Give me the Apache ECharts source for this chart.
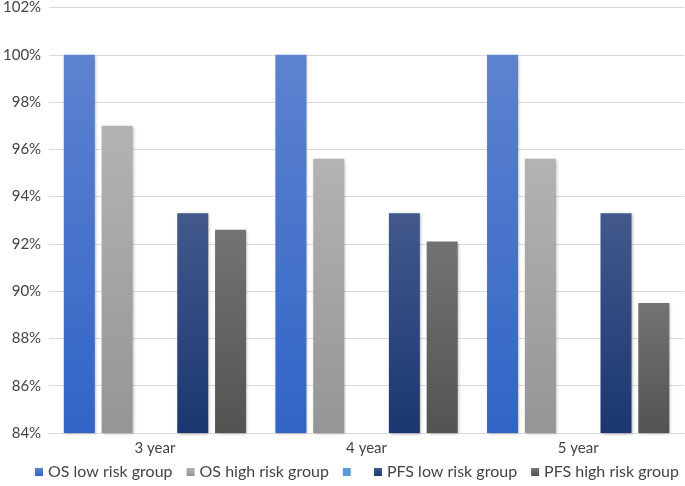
<!DOCTYPE html>
<html>
<head>
<meta charset="utf-8">
<script src="https://cdn.jsdelivr.net/npm/echarts@6/dist/echarts.min.js"></script>
<style>
  html, body { margin: 0; padding: 0; background: #fff; }
  #chart { width: 685px; height: 486px; }
</style>
</head>
<body>
<div id="chart"></div>
<script>
// categories and values (percent)
var years = ['3 year', '4 year', '5 year'];
var osLow = [100, 100, 100];
var osHigh = [97.0, 95.6, 95.6];
var blankSeries = [null, null, null];
var pfsLow = [93.3, 93.3, 93.3];
var pfsHigh = [92.6, 92.1, 89.5];
var seriesNames = ['OS low risk group', 'OS high risk group', ' ', 'PFS low risk group', 'PFS high risk group'];

var font = 'Lato';
var textColor = '#444444';

// vertical gradient, light at top
function grad(top, bottom) {
  return new echarts.graphic.LinearGradient(0, 0, 0, 1, [
    { offset: 0, color: top },
    { offset: 1, color: bottom }
  ]);
}

function barSeries(name, data, legendColor, top, bottom) {
  return {
    name: name,
    type: 'bar',
    data: data,
    barWidth: 31,
    barGap: '22%',
    color: legendColor,
    itemStyle: {
      color: grad(top, bottom),
      shadowBlur: 3,
      shadowColor: 'rgba(0,0,0,0.3)',
      shadowOffsetX: 1,
      shadowOffsetY: 1
    }
  };
}

var chart = echarts.init(document.getElementById('chart'));
chart.setOption({
  animation: false,
  grid: { left: 48, right: 1, top: 7, bottom: 53 },
  legend: {
    data: seriesNames,
    bottom: 6,
    left: 35,
    width: 660,
    padding: 0,
    itemWidth: 8,
    itemHeight: 8,
    itemGap: 14,
    icon: 'rect',
    textStyle: { fontFamily: font, fontSize: 16, color: textColor }
  },
  xAxis: {
    type: 'category',
    data: years,
    axisLine: { lineStyle: { color: '#d9d9d9', width: 1 } },
    axisTick: { show: false },
    axisLabel: { fontFamily: font, fontSize: 15, color: textColor, margin: 8 }
  },
  yAxis: {
    type: 'value',
    min: 84,
    max: 102,
    interval: 2,
    axisLine: { show: false },
    axisTick: { show: false },
    splitLine: { lineStyle: { color: '#d9d9d9', width: 1 } },
    axisLabel: { formatter: '{value}%', fontFamily: font, fontSize: 15, color: textColor, margin: 8 }
  },
  series: [
    barSeries(seriesNames[0], osLow, '#4472c4', '#5d82cf', '#3164c6'),
    barSeries(seriesNames[1], osHigh, '#a5a5a5', '#b3b3b3', '#959595'),
    barSeries(seriesNames[2], blankSeries, '#5b9bd5', '#5b9bd5', '#5b9bd5'),
    barSeries(seriesNames[3], pfsLow, '#264478', '#43598c', '#1b3670'),
    barSeries(seriesNames[4], pfsHigh, '#636363', '#737373', '#535353')
  ]
});
</script>
</body>
</html>
